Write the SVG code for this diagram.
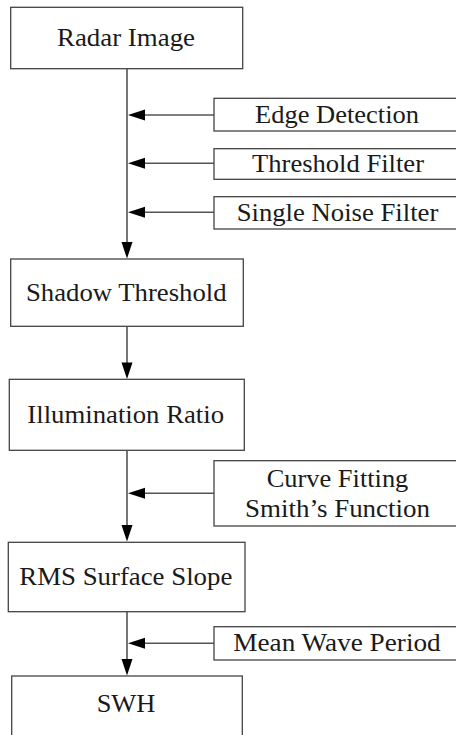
<svg xmlns="http://www.w3.org/2000/svg" width="456" height="735" viewBox="0 0 456 735">
<defs>
<style>
.box{fill:#fff;stroke:#444;stroke-width:1.3}
.ln{stroke:#555;stroke-width:1.6;fill:none}
.t{font-family:'Liberation Serif','Times New Roman',serif;font-size:24.5px;fill:#1a1a1a;text-anchor:middle}
.ah{fill:#000}
</style>
</defs>
<rect width="456" height="735" fill="#fff"/>
<g id="connectors">
<line class="ln" x1="127" y1="68.7" x2="127" y2="245"/>
<polygon class="ah" points="121.5,242 132.5,242 127,258.6"/>
<line class="ln" x1="127" y1="326.3" x2="127" y2="366"/>
<polygon class="ah" points="121.5,362.5 132.5,362.5 127,379.1"/>
<line class="ln" x1="127" y1="450.3" x2="127" y2="528"/>
<polygon class="ah" points="121.5,525 132.5,525 127,541.6"/>
<line class="ln" x1="127" y1="611.7" x2="127" y2="662"/>
<polygon class="ah" points="121.5,659 132.5,659 127,675.6"/>
<line class="ln" x1="140" y1="115" x2="214" y2="115"/>
<polygon class="ah" points="128,115 145,109.5 145,120.5"/>
<line class="ln" x1="140" y1="163.3" x2="214" y2="163.3"/>
<polygon class="ah" points="128,163.3 145,157.8 145,168.8"/>
<line class="ln" x1="140" y1="212.3" x2="214" y2="212.3"/>
<polygon class="ah" points="128,212.3 145,206.8 145,217.8"/>
<line class="ln" x1="140" y1="493.3" x2="214" y2="493.3"/>
<polygon class="ah" points="128,493.3 145,487.8 145,498.8"/>
<line class="ln" x1="140" y1="643.3" x2="214" y2="643.3"/>
<polygon class="ah" points="128,643.3 145,637.8 145,648.8"/>
</g>
<g id="radar-image">
<rect class="box" x="10.7" y="7.3" width="232" height="61.4"/>
<text class="t" x="126" y="46" textLength="138" lengthAdjust="spacingAndGlyphs">Radar Image</text>
</g>
<g id="edge-detection">
<rect class="box" x="214" y="98.3" width="260" height="32.7"/>
<text class="t" x="337" y="122.7" textLength="164" lengthAdjust="spacingAndGlyphs">Edge Detection</text>
</g>
<g id="threshold-filter">
<rect class="box" x="214" y="148.7" width="260" height="30.6"/>
<text class="t" x="338" y="171.7" textLength="172" lengthAdjust="spacingAndGlyphs">Threshold Filter</text>
</g>
<g id="single-noise-filter">
<rect class="box" x="214" y="196.7" width="260" height="32.3"/>
<text class="t" x="337.5" y="220.7" textLength="201.7" lengthAdjust="spacingAndGlyphs">Single Noise Filter</text>
</g>
<g id="shadow-threshold">
<rect class="box" x="10.7" y="259" width="232.6" height="67.3"/>
<text class="t" x="126.3" y="300.7" textLength="200.7" lengthAdjust="spacingAndGlyphs">Shadow Threshold</text>
</g>
<g id="illumination-ratio">
<rect class="box" x="9.3" y="379.3" width="235" height="71"/>
<text class="t" x="125.7" y="422.7" textLength="196.7" lengthAdjust="spacingAndGlyphs">Illumination Ratio</text>
</g>
<g id="curve-fitting">
<rect class="box" x="214" y="460.7" width="260" height="65.3"/>
<text class="t" x="337.5" y="487" textLength="141.7" lengthAdjust="spacingAndGlyphs">Curve Fitting</text>
<text class="t" x="337.5" y="516.7" textLength="185" lengthAdjust="spacingAndGlyphs">Smith’s Function</text>
</g>
<g id="rms-surface-slope">
<rect class="box" x="8.3" y="542.3" width="236.7" height="69.4"/>
<text class="t" x="125.8" y="585" textLength="213" lengthAdjust="spacingAndGlyphs">RMS Surface Slope</text>
</g>
<g id="mean-wave-period">
<rect class="box" x="214" y="626.7" width="260" height="33.3"/>
<text class="t" x="337" y="651" textLength="207.3" lengthAdjust="spacingAndGlyphs">Mean Wave Period</text>
</g>
<g id="swh">
<rect class="box" x="11.7" y="676" width="230.6" height="80"/>
<text class="t" x="126" y="712.3" textLength="58.7" lengthAdjust="spacingAndGlyphs">SWH</text>
</g>
</svg>
